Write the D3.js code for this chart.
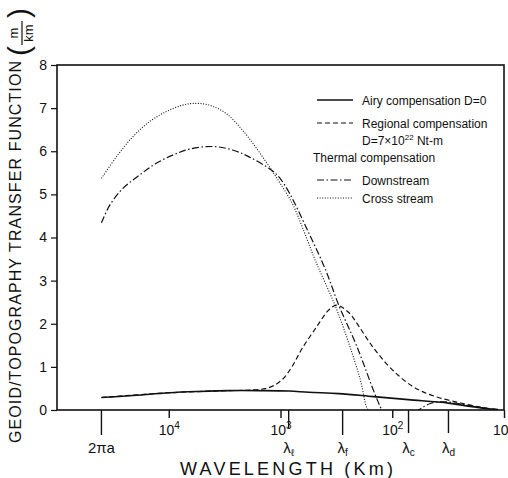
<!DOCTYPE html>
<html>
<head>
<meta charset="utf-8">
<script src="https://cdn.jsdelivr.net/npm/d3@7"></script>
<style>
  body { margin: 0; background: #fff; }
  svg { display: block; }
  text { font-family: "Liberation Sans", Arial, sans-serif; fill: #111; }
</style>
</head>
<body>
<svg id="chart" width="508" height="478"></svg>
<script>
// wavelengths in km, values in m/km
const airyWl = [40030, 22400, 9840, 5320, 2880, 1560, 840, 557, 301, 147, 72, 31.5, 21, 13.9, 11.3];
const airyVal = [0.29, 0.33, 0.40, 0.43, 0.45, 0.45, 0.44, 0.41, 0.38, 0.31, 0.24, 0.16, 0.09, 0.03, 0.01];

const regionalWl = [40030, 9840, 2880, 1910, 1265, 970, 791, 643, 483, 370, 314, 245, 200, 153, 115, 88, 67, 53, 38.7, 27, 19, 13.9, 11.3];
const regionalVal = [0.29, 0.40, 0.45, 0.46, 0.52, 0.70, 1.00, 1.42, 1.90, 2.32, 2.43, 2.26, 1.95, 1.50, 1.10, 0.80, 0.56, 0.42, 0.29, 0.19, 0.10, 0.04, 0.01];

const downstreamWl = [40030, 33700, 25700, 18200, 12950, 9200, 6530, 4050, 2690, 1910, 1200, 1016, 828, 557, 395, 301, 207, 142, 124, 97.5, 72, 58, 45.6, 34.9, 25.7, 19, 13.9, 11.3];
const downstreamVal = [4.34, 4.75, 5.14, 5.45, 5.72, 5.91, 6.05, 6.11, 6.03, 5.87, 5.56, 5.38, 5.02, 4.10, 3.25, 2.43, 1.47, 0.35, 0, -0.5, -0.2, 0, 0.15, 0.19, 0.15, 0.09, 0.03, 0.01];

const crossWl = [40030, 29400, 20900, 14800, 10500, 7500, 5900, 4340, 3080, 2190, 1560, 1100, 785, 640, 485, 322, 245, 193, 169, 163];
const crossVal = [5.37, 5.87, 6.34, 6.69, 6.92, 7.07, 7.11, 7.07, 6.88, 6.49, 5.99, 5.41, 4.79, 4.25, 3.45, 2.40, 1.55, 0.70, 0.05, 0];

const decadeTicks = [1e4, 1e3, 1e2, 10];
const decadeExp = ["4", "3", "2", ""];
const markWl = [40030, 845, 278, 71.5, 31.4];
const markMain = ["2\u03C0a", "\u03BB", "\u03BB", "\u03BB", "\u03BB"];
const markSub = ["", "\u2113", "f", "c", "d"];
const yTicks = [0, 1, 2, 3, 4, 5, 6, 7, 8];

const margin = { top: 65, right: 4, bottom: 68, left: 57 };
const width = 508 - margin.left - margin.right;
const height = 478 - margin.top - margin.bottom;

const svg = d3.select("#chart");
const g = svg.append("g").attr("transform", `translate(${margin.left},${margin.top})`);

const x = d3.scaleLog().domain([1e5, 10]).range([0, width]);
const y = d3.scaleLinear().domain([0, 8]).range([height, 0]);

svg.append("defs").append("clipPath").attr("id", "plot-clip")
  .append("rect").attr("width", width).attr("height", height);

// frame
g.append("rect")
  .attr("width", width).attr("height", height)
  .attr("fill", "none").attr("stroke", "#111").attr("stroke-width", 1.6);

// y axis
const yAxis = g.append("g")
  .call(d3.axisLeft(y).tickValues(yTicks).tickSize(6).tickPadding(4).tickFormat(d3.format("d")));
yAxis.select(".domain").remove();
yAxis.selectAll("line").attr("stroke", "#111").attr("stroke-width", 1.2);
yAxis.selectAll("text").attr("font-size", 14).style("font-family", "Liberation Sans, Arial, sans-serif").attr("fill", "#111");

// x axis, decades
const xAxis = g.append("g").attr("transform", `translate(0,${height})`)
  .call(d3.axisBottom(x).tickValues(decadeTicks).tickSize(8).tickFormat(""));
xAxis.select(".domain").remove();
xAxis.selectAll("line").attr("stroke", "#111").attr("stroke-width", 1.4);
xAxis.selectAll(".tick").each(function (d, i) {
  const last = i === decadeTicks.length - 1;
  const t = d3.select(this).append("text")
    .attr("x", last ? 4 : 0)
    .attr("y", 25).attr("text-anchor", last ? "end" : "middle")
    .attr("font-size", 14).attr("fill", "#111");
  t.append("tspan").text("10");
  if (decadeExp[i]) {
    t.append("tspan").attr("dy", -6).attr("font-size", 10).text(decadeExp[i]);
  }
});

// x axis, wavelength markers
const markLen = [25, 18, 25, 23, 23];
markWl.forEach((w, i) => {
  const mg = g.append("g").attr("transform", `translate(${x(w)},${height})`);
  mg.append("line").attr("y1", 0).attr("y2", markLen[i])
    .attr("stroke", "#111").attr("stroke-width", 1.4);
  const t = mg.append("text").attr("y", 43).attr("text-anchor", "middle")
    .attr("font-size", 15).attr("fill", "#111");
  t.append("tspan").text(markMain[i]);
  if (markSub[i]) {
    t.append("tspan").attr("dy", 3).attr("font-size", 10).text(markSub[i]);
  }
});

// axis titles
svg.append("text")
  .attr("x", 180).attr("y", 475)
  .attr("font-size", 18)
  .attr("textLength", 213).attr("lengthAdjust", "spacing")
  .text("WAVELENGTH  (Km)");

const yl = svg.append("g").attr("transform", "translate(21,443) rotate(-90)");
yl.append("text")
  .attr("x", 0).attr("y", 0)
  .attr("font-size", 16)
  .attr("textLength", 382).attr("lengthAdjust", "spacing")
  .text("GEOID/TOPOGRAPHY  TRANSFER  FUNCTION");
yl.append("text").attr("x", 387).attr("y", 8).attr("font-size", 30).text("(");
yl.append("text").attr("x", 410).attr("y", -3).attr("font-size", 13).attr("text-anchor", "middle").text("m");
yl.append("line").attr("x1", 398).attr("x2", 422).attr("y1", 1).attr("y2", 1)
  .attr("stroke", "#111").attr("stroke-width", 1.2);
yl.append("text").attr("x", 410).attr("y", 12).attr("font-size", 13).attr("text-anchor", "middle").text("km");
yl.append("text").attr("x", 425).attr("y", 8).attr("font-size", 30).text(")");

// curves
const line = d3.line()
  .curve(d3.curveCatmullRom.alpha(0.5))
  .x((d) => x(d[0]))
  .y((d) => y(d[1]));

const series = [
  { wl: airyWl, val: airyVal, dash: null, w: 1.6 },
  { wl: regionalWl, val: regionalVal, dash: "5,3", w: 1.2 },
  { wl: downstreamWl, val: downstreamVal, dash: "7,2.5,1.5,2.5", w: 1.2 },
  { wl: crossWl, val: crossVal, dash: "1,1.6", w: 1.1 },
];

const plot = g.append("g").attr("clip-path", "url(#plot-clip)");
series.forEach((s) => {
  plot.append("path")
    .datum(d3.zip(s.wl, s.val))
    .attr("fill", "none")
    .attr("stroke", "#111")
    .attr("stroke-width", s.w)
    .attr("stroke-dasharray", s.dash)
    .attr("d", line);
});

// legend
const legend = g.append("g").attr("font-size", 12);
const legendRows = [
  { y: 35, s: series[0], label: "Airy compensation D=0" },
  { y: 58, s: series[1], label: "Regional compensation" },
  { y: 115, s: series[2], label: "Downstream" },
  { y: 133, s: series[3], label: "Cross stream" },
];
legendRows.forEach((r) => {
  legend.append("line")
    .attr("x1", 260).attr("x2", 296).attr("y1", r.y).attr("y2", r.y)
    .attr("stroke", "#111").attr("stroke-width", r.s.w)
    .attr("stroke-dasharray", r.s.dash);
  legend.append("text").attr("x", 305).attr("y", r.y + 4.5).text(r.label);
});
const dText = legend.append("text").attr("x", 305).attr("y", 80);
dText.append("tspan").text("D=7\u00D710");
dText.append("tspan").attr("dy", -5).attr("font-size", 8).text("22");
dText.append("tspan").attr("dy", 5).text(" Nt-m");
legend.append("text").attr("x", 256).attr("y", 97).text("Thermal compensation");
</script>
</body>
</html>
